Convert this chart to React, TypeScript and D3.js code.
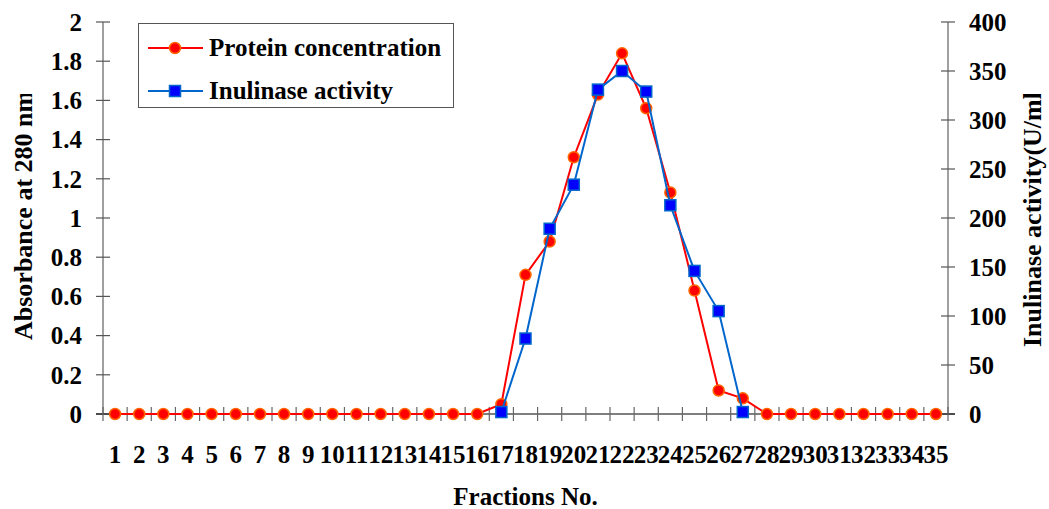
import React from "react";
import * as d3 from "d3";

// fractions 1..35
const fractions = d3.range(1, 36).map(String);

// protein concentration (absorbance at 280 nm), fractions 1-35
const protein = [
  0, 0, 0, 0, 0, 0, 0, 0, 0, 0, 0, 0, 0, 0, 0, 0,
  0.05, 0.71, 0.88, 1.31, 1.63, 1.84, 1.56, 1.13, 0.63, 0.12, 0.08,
  0, 0, 0, 0, 0, 0, 0, 0,
];

// inulinase activity (U/ml), only measured for fractions 17-27
const activityFractions = ["17", "18", "19", "20", "21", "22", "23", "24", "25", "26", "27"];
const activity = [2, 77, 189, 234, 331, 350, 329, 213, 146, 105, 2];

const leftTicks = [0, 0.2, 0.4, 0.6, 0.8, 1, 1.2, 1.4, 1.6, 1.8, 2];
const rightTicks = [0, 50, 100, 150, 200, 250, 300, 350, 400];

const W = 1049;
const H = 509;
const margin = { top: 22, right: 101, bottom: 95, left: 103 };
const FONT = "'Liberation Serif', 'Times New Roman', serif";
const FS = 25;

export default function App() {
  const x = d3
    .scaleBand<string>()
    .domain(fractions)
    .range([margin.left, W - margin.right])
    .padding(0);
  const yL = d3.scaleLinear().domain([0, 2]).range([H - margin.bottom, margin.top]);
  const yR = d3.scaleLinear().domain([0, 400]).range([H - margin.bottom, margin.top]);
  const cx = (f: string) => (x(f) ?? 0) + x.bandwidth() / 2;

  const proteinLine = d3
    .line<number>()
    .x((_, i) => cx(fractions[i]))
    .y((d) => yL(d));
  const activityLine = d3
    .line<number>()
    .x((_, i) => cx(activityFractions[i]))
    .y((d) => yR(d));

  const x0 = margin.left;
  const x1 = W - margin.right;
  const yb = H - margin.bottom;
  const boundaries = [...fractions.map((f) => x(f) ?? 0), x1];

  return (
    <svg
      width={W}
      height={H}
      style={{ position: "absolute", left: 0, top: 0, background: "#fff" }}
      fontFamily={FONT}
      fontWeight="bold"
    >
      <defs>
        <clipPath id="titleClip">
          <rect x={0} y={94} width={W} height={H} />
        </clipPath>
      </defs>

      {/* left axis */}
      <line x1={x0} x2={x0} y1={margin.top} y2={yb} stroke="#808080" strokeWidth={1.5} />
      {leftTicks.map((t) => (
        <g key={"l" + t}>
          <line x1={x0 - 7} x2={x0 + 7} y1={yL(t)} y2={yL(t)} stroke="#555" strokeWidth={1.2} />
          <text x={82} y={yL(t)} dy="0.35em" textAnchor="end" fontSize={FS}>
            {t}
          </text>
        </g>
      ))}

      {/* right axis */}
      <line x1={x1} x2={x1} y1={margin.top} y2={yb} stroke="#808080" strokeWidth={1.5} />
      {rightTicks.map((t) => (
        <g key={"r" + t}>
          <line x1={x1 - 7} x2={x1 + 7} y1={yR(t)} y2={yR(t)} stroke="#555" strokeWidth={1.2} />
          <text x={969} y={yR(t)} dy="0.35em" textAnchor="start" fontSize={FS}>
            {t}
          </text>
        </g>
      ))}

      {/* x axis */}
      <line x1={x0 - 7} x2={x1 + 7} y1={yb} y2={yb} stroke="#000" strokeWidth={1.2} />
      {boundaries.map((b, i) => (
        <line key={"xt" + i} x1={b} x2={b} y1={yb - 7} y2={yb + 7} stroke="#666" strokeWidth={1.2} />
      ))}
      {fractions.map((f) => (
        <text key={"xl" + f} x={cx(f)} y={463} textAnchor="middle" fontSize={FS}>
          {f}
        </text>
      ))}

      {/* axis titles */}
      <text x={(x0 + x1) / 2} y={505} textAnchor="middle" fontSize={FS}>
        Fractions No.
      </text>
      <g clipPath="url(#titleClip)">
        <text transform="translate(32,340) rotate(-90)" textAnchor="start" fontSize={26}>
          Absorbance at 280 nm
        </text>
        <text transform="translate(1041,347) rotate(-90)" textAnchor="start" fontSize={26}>
          Inulinase activity(U/ml)
        </text>
      </g>

      {/* protein series */}
      <path d={proteinLine(protein) ?? ""} fill="none" stroke="#ff0000" strokeWidth={2} />
      {protein.map((v, i) => (
        <circle
          key={"p" + i}
          cx={cx(fractions[i])}
          cy={yL(v)}
          r={5.5}
          fill="#ff0000"
          stroke="#ff6600"
          strokeWidth={1.5}
        />
      ))}

      {/* activity series */}
      <path d={activityLine(activity) ?? ""} fill="none" stroke="#0066cc" strokeWidth={2} />
      {activity.map((v, i) => (
        <rect
          key={"a" + i}
          x={cx(activityFractions[i]) - 5.5}
          y={yR(v) - 5.5}
          width={11}
          height={11}
          fill="#0000ff"
          stroke="#0066cc"
          strokeWidth={1.5}
        />
      ))}

      {/* legend */}
      <rect x={138.5} y={23.5} width={315} height={84} fill="#fff" stroke="#555" strokeWidth={1} />
      <line x1={148} x2={203} y1={48} y2={48} stroke="#ff0000" strokeWidth={2} />
      <circle cx={175} cy={48} r={5.5} fill="#ff0000" stroke="#ff6600" strokeWidth={1.5} />
      <text x={209} y={56} fontSize={FS}>
        Protein concentration
      </text>
      <line x1={148} x2={203} y1={91} y2={91} stroke="#0066cc" strokeWidth={2} />
      <rect x={169.5} y={85.5} width={11} height={11} fill="#0000ff" stroke="#0066cc" strokeWidth={1.5} />
      <text x={209} y={99} fontSize={FS}>
        Inulinase activity
      </text>
    </svg>
  );
}
